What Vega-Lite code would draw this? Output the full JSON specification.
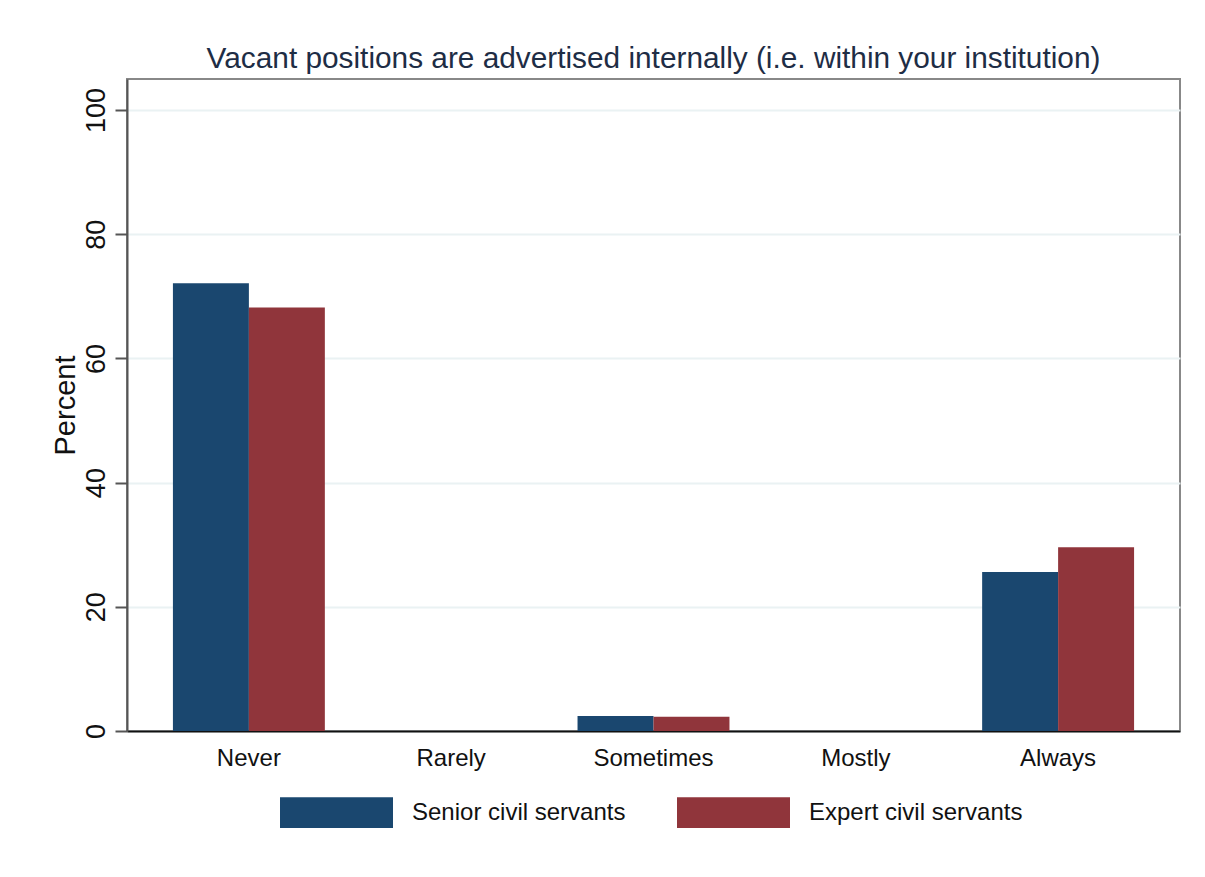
{
  "$schema": "https://vega.github.io/schema/vega-lite/v6.json",
  "autosize": {"type": "none"},
  "padding": {"left": 127, "top": 79, "right": 25, "bottom": 146},
  "width": 1053,
  "height": 652,
  "background": "white",
  "title": {
    "text": "Vacant positions are advertised internally (i.e. within your institution)",
    "font": "Liberation Sans",
    "fontSize": 29.8,
    "fontWeight": "normal",
    "color": "#1e2d45",
    "anchor": "middle",
    "offset": 5
  },
  "data": {
    "values": [
      {"response": "Never", "group": "Senior civil servants", "percent": 72.1},
      {"response": "Never", "group": "Expert civil servants", "percent": 68.2},
      {"response": "Rarely", "group": "Senior civil servants", "percent": 0},
      {"response": "Rarely", "group": "Expert civil servants", "percent": 0},
      {"response": "Sometimes", "group": "Senior civil servants", "percent": 2.4},
      {"response": "Sometimes", "group": "Expert civil servants", "percent": 2.3},
      {"response": "Mostly", "group": "Senior civil servants", "percent": 0},
      {"response": "Mostly", "group": "Expert civil servants", "percent": 0},
      {"response": "Always", "group": "Senior civil servants", "percent": 25.6},
      {"response": "Always", "group": "Expert civil servants", "percent": 29.6}
    ]
  },
  "mark": {"type": "bar"},
  "encoding": {
    "x": {
      "field": "response",
      "type": "nominal",
      "sort": ["Never", "Rarely", "Sometimes", "Mostly", "Always"],
      "scale": {"paddingInner": 0.249, "paddingOuter": 0.227},
      "axis": {
        "title": null,
        "labelAngle": 0,
        "labelFont": "Liberation Sans",
        "labelFontSize": 24,
        "labelColor": "#111",
        "labelPadding": 15,
        "ticks": false,
        "domainColor": "#111",
        "domainWidth": 2
      }
    },
    "xOffset": {
      "field": "group",
      "type": "nominal",
      "sort": ["Senior civil servants", "Expert civil servants"],
      "scale": {"paddingInner": 0, "paddingOuter": 0}
    },
    "y": {
      "field": "percent",
      "type": "quantitative",
      "scale": {"domain": [0, 105], "nice": false},
      "axis": {
        "title": "Percent",
        "titleFont": "Liberation Sans",
        "titleFontSize": 29,
        "titleFontWeight": "normal",
        "titleColor": "#111",
        "titlePadding": 2,
        "values": [0, 20, 40, 60, 80, 100],
        "labelAngle": -90,
        "labelAlign": "center",
        "labelBaseline": "alphabetic",
        "labelFont": "Liberation Sans",
        "labelFontSize": 27,
        "labelColor": "#111",
        "labelPadding": 11,
        "tickSize": 12,
        "tickColor": "#555",
        "tickWidth": 2,
        "domainColor": "#555",
        "domainWidth": 2,
        "grid": true,
        "gridColor": "#eaf2f3",
        "gridWidth": 2
      }
    },
    "color": {
      "field": "group",
      "type": "nominal",
      "sort": ["Senior civil servants", "Expert civil servants"],
      "scale": {"range": ["#1a476f", "#90353b"]},
      "legend": {
        "title": null,
        "orient": "none",
        "legendX": 153,
        "legendY": 677,
        "direction": "horizontal",
        "symbolType": "M-1,-0.27H1V0.27H-1Z",
        "symbolSize": 12769,
        "symbolStrokeWidth": 0,
        "symbolOpacity": 1,
        "labelFont": "Liberation Sans",
        "labelFontSize": 24,
        "labelColor": "#111",
        "labelOffset": 19,
        "labelLimit": 400,
        "columnPadding": 51
      }
    }
  },
  "config": {
    "view": {"stroke": "#888", "strokeWidth": 2}
  }
}
